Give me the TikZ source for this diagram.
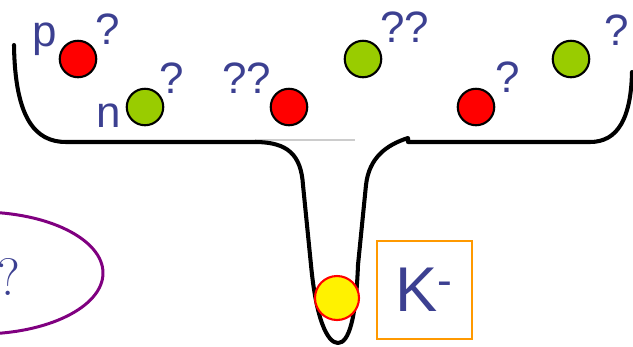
\documentclass[tikz,border=0pt]{standalone}
\usepackage{fontspec}
\newfontfamily\labelfont{Liberation Sans}
\usepackage{tikz}
\usetikzlibrary{positioning}
\definecolor{qblue}{RGB}{60,64,145}
\definecolor{nucgreen}{RGB}{153,204,0}
\definecolor{kbox}{RGB}{255,153,0}
\definecolor{cloud}{RGB}{128,0,128}

\begin{document}
\begin{tikzpicture}[
    x=0.02cm, y=-0.02cm,
    ball/.style={circle, draw=black, line width=1.2pt, minimum size=0.73cm, inner sep=0pt},
    proton/.style={ball, fill=red},
    neutron/.style={ball, fill=nucgreen},
    kaon/.style={circle, draw=red, fill=yellow, line width=1.2pt, minimum size=0.88cm, inner sep=0pt},
    qmark/.style={text=qblue, font=\labelfont\fontsize{25}{30}\selectfont, inner sep=0pt},
    well/.style={line width=2.3pt, draw=black, line cap=round, line join=round}
]
    \useasboundingbox (0,0) rectangle (633,346);
    \clip (0,0) rectangle (633,346);

    % potential
    \draw [gray!40, line width=0.8pt] (255,140) -- (355,140);
    \draw [well] (14,45) .. controls (15,118) and (35,142) .. (66,142)
        -- (255,142) .. controls (288,142) and (301,155) .. (303,185)
        -- (311,265) .. controls (316,318) and (327,343) .. (338,343)
        .. controls (349,343) and (356,318) .. (358,265)
        -- (366,185) .. controls (369,158) and (386,145) .. (408,138)
        -- (408,142) -- (590,142) .. controls (618,142) and (631,118) .. (632,72);

    % nucleons
    \node (p1) [proton] at (78,59) {};
    \node (n1) [neutron] at (145,107) {};
    \node (p2) [proton] at (289,107) {};
    \node (n2) [neutron] at (363,59) {};
    \node (p3) [proton] at (476,107) {};
    \node (n3) [neutron] at (571,59) {};
    \node (kaon) [kaon] at (337,298) {};

    \node (plab) [qmark] at (45,39) {p};
    \node (nlab) [qmark] at (109,116) {n};
    \node (q1) [qmark] at (108,29) {?};
    \node (q2) [qmark] at (172,78) {?};
    \node (q3) [qmark] at (247,78) {??};
    \node (q4) [qmark] at (405,27) {??};
    \node (q5) [qmark] at (508,77) {?};
    \node (q6) [qmark] at (617,30) {?};

    % kaon label
    \node (klab) [draw=kbox, line width=1.4pt, minimum width=1.9cm, minimum height=1.96cm,
        text=qblue, font=\labelfont\fontsize{36}{40}\selectfont, inner sep=0pt]
        at (424.5,290) {K\textsuperscript{-}};

    % cloud
    \draw [cloud, line width=1.7pt] (-20,273) ellipse [x radius=123, y radius=61];
    \node (qc) [text=qblue, font=\fontsize{30}{34}\selectfont, inner sep=0pt] at (9,277) {?};
\end{tikzpicture}
\end{document}
